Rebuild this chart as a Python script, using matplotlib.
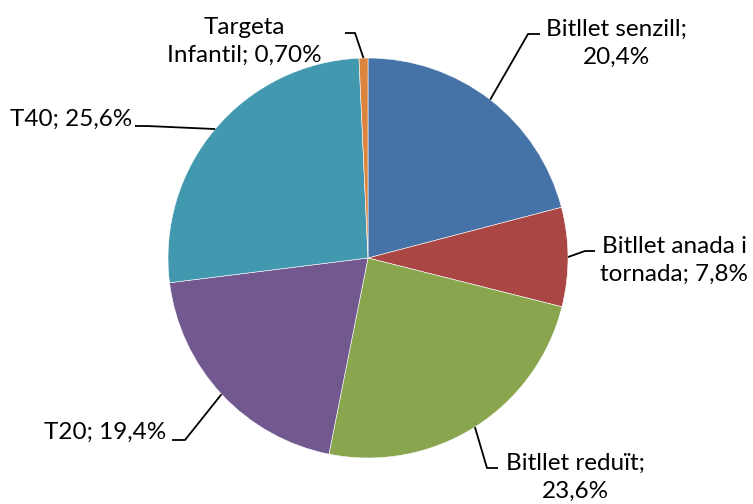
import numpy as np
import matplotlib
matplotlib.use("Agg")
import matplotlib.pyplot as plt

# Dades del gràfic
categories = ["Bitllet senzill", "Bitllet anada i tornada", "Bitllet reduït",
              "T20", "T40", "Targeta Infantil"]
values = [20.4, 7.8, 23.6, 19.4, 25.6, 0.70]
value_labels = ["20,4%", "7,8%", "23,6%", "19,4%", "25,6%", "0,70%"]
colors = ["#4572A7", "#AA4643", "#89A54E", "#71588F", "#4198AF", "#DB843D"]

label_texts = [
    f"Bitllet senzill;\n{value_labels[0]}",
    f"Bitllet anada i\ntornada; {value_labels[1]}",
    f"Bitllet reduït;\n{value_labels[2]}",
    f"T20; {value_labels[3]}",
    f"T40; {value_labels[4]}",
    f"Targeta\nInfantil; {value_labels[5]}",
]

# Layout (pixels from top-left): text anchor, alignment, leader elbow, leader end
W, H = 753, 504
CX, CY, R = 368, 258, 200
layout = [
    dict(xy=(616, 43), ha="center", elbow=(528, 34), end=(540, 34)),
    dict(xy=(600, 260), ha="left", elbow=(585, 251), end=(595, 251)),
    dict(xy=(575, 477), ha="center", elbow=(487, 468), end=(498, 468)),
    dict(xy=(166, 432), ha="right", elbow=(185, 440), end=(172, 440)),
    dict(xy=(10, 119), ha="left", elbow=(147, 126), end=(135, 126)),
    dict(xy=(244, 41), ha="center", elbow=(355, 33), end=(345, 33)),
]


def px(p):
    # pixel position -> data coordinates (pie radius = 1)
    return ((p[0] - CX) / R, (CY - p[1]) / R)


plt.rcParams["font.family"] = ["Lato", "DejaVu Sans"]

fig = plt.figure(figsize=(W / 100, H / 100), dpi=100)
ax = fig.add_axes([0, 0, 1, 1])

wedges, _ = ax.pie(values, colors=colors, startangle=90, counterclock=False,
                   radius=1, center=(0, 0),
                   wedgeprops=dict(edgecolor="white", linewidth=0.4))

for w, txt, lay in zip(wedges, label_texts, layout):
    mid = np.deg2rad((w.theta1 + w.theta2) / 2)
    start = (np.cos(mid), np.sin(mid))
    ex, ey = px(lay["elbow"])
    nx, ny = px(lay["end"])
    ax.plot([start[0], ex, nx], [start[1], ey, ny], color="black", lw=1.3,
            solid_capstyle="butt")
    tx, ty = px(lay["xy"])
    ax.text(tx, ty, txt, ha=lay["ha"], va="center", fontsize=17.5,
            color="#000000", linespacing=1.4, multialignment="center")

ax.set_xlim(-CX / R, (W - CX) / R)
ax.set_ylim((CY - H) / R, CY / R)
ax.set_aspect("equal")
ax.axis("off")

fig.savefig("out.png", dpi=100)
